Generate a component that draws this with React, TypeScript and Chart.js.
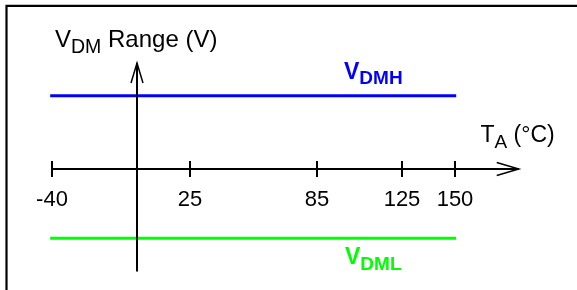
import React, { useEffect, useRef } from "react";
import { Chart, registerables } from "chart.js";

Chart.register(...registerables);

// Data
const tempTicks: number[] = [-40, 25, 85, 125, 150];
const tempRange: number[] = [-40, 150];
const vdmhValues: number[] = [1, 1];
const vdmlValues: number[] = [-0.945, -0.945];

const FONT = '"Liberation Sans", Arial, sans-serif';

const axesPlugin = {
  id: "schematicAxes",
  afterDatasetsDraw(chart: any) {
    const ctx = chart.ctx as CanvasRenderingContext2D;
    const xs = chart.scales.x;
    const ys = chart.scales.y;
    const x0 = Math.round(xs.getPixelForValue(0));
    const y0 = Math.round(ys.getPixelForValue(0));
    const xStart = xs.getPixelForValue(tempTicks[0]);
    const xEnd = xs.getPixelForValue(180.2);
    const yTop = ys.getPixelForValue(1.446);
    const yBot = ys.getPixelForValue(-1.4);

    ctx.save();
    // frame
    ctx.strokeStyle = "#000";
    ctx.lineWidth = 2.2;
    ctx.beginPath();
    ctx.moveTo(6.5, 300);
    ctx.lineTo(6.5, 5.8);
    ctx.lineTo(600, 5.8);
    ctx.stroke();

    // horizontal axis
    ctx.lineWidth = 2;
    ctx.beginPath();
    ctx.moveTo(xStart, y0);
    ctx.lineTo(xEnd, y0);
    ctx.stroke();
    // arrowhead
    ctx.lineWidth = 1.5;
    ctx.beginPath();
    ctx.moveTo(xEnd - 22, y0 - 6.5);
    ctx.lineTo(xEnd, y0);
    ctx.lineTo(xEnd - 22, y0 + 6.5);
    ctx.stroke();

    // vertical axis
    ctx.lineWidth = 2;
    ctx.beginPath();
    ctx.moveTo(x0, yBot);
    ctx.lineTo(x0, yTop);
    ctx.stroke();
    ctx.lineWidth = 1.5;
    ctx.beginPath();
    ctx.moveTo(x0 - 6, yTop + 20);
    ctx.lineTo(x0, yTop);
    ctx.lineTo(x0 + 6, yTop + 20);
    ctx.stroke();

    // ticks + labels
    ctx.lineWidth = 2;
    ctx.fillStyle = "#000";
    ctx.font = `22px ${FONT}`;
    ctx.textAlign = "center";
    ctx.textBaseline = "alphabetic";
    for (const t of tempTicks) {
      const px = Math.round(xs.getPixelForValue(t));
      ctx.beginPath();
      ctx.moveTo(px, y0 - 8);
      ctx.lineTo(px, y0 + 8);
      ctx.stroke();
      ctx.fillText(String(t), px, y0 + 37);
    }

    // text helper: main + subscript + rest
    const drawSub = (
      x: number,
      y: number,
      main: string,
      sub: string,
      rest: string,
      color: string,
      bold: boolean,
      mainSize: number,
      subSize: number
    ) => {
      const w = bold ? "bold " : "";
      ctx.fillStyle = color;
      ctx.textAlign = "left";
      ctx.font = `${w}${mainSize}px ${FONT}`;
      ctx.fillText(main, x, y);
      let cx = x + ctx.measureText(main).width;
      ctx.font = `${w}${subSize}px ${FONT}`;
      ctx.fillText(sub, cx, y + 5.5);
      cx += ctx.measureText(sub).width;
      if (rest) {
        ctx.font = `${w}${mainSize}px ${FONT}`;
        ctx.fillText(rest, cx, y);
      }
    };

    drawSub(55, 47, "V", "DM", " Range (V)", "#000", false, 24, 19.5);
    drawSub(480.5, 142, "T", "A", " (°C)", "#000", false, 23, 19);
    drawSub(344, 78.5, "V", "DMH", "", "#0000FF", true, 23, 19);
    drawSub(345, 264, "V", "DML", "", "#00FF00", true, 23, 19);

    ctx.restore();
  },
};

export default function App() {
  const canvasRef = useRef<HTMLCanvasElement | null>(null);

  useEffect(() => {
    if (!canvasRef.current) return;
    const chart = new Chart(canvasRef.current, {
      type: "line",
      data: {
        datasets: [
          {
            label: "VDMH",
            data: tempRange.map((t, i) => ({ x: t, y: vdmhValues[i] })),
            borderColor: "#0000FF",
            borderWidth: 3,
            borderCapStyle: "square",
            pointRadius: 0,
            fill: false,
          },
          {
            label: "VDML",
            data: tempRange.map((t, i) => ({ x: t, y: vdmlValues[i] })),
            borderColor: "#00FF00",
            borderWidth: 3,
            borderCapStyle: "square",
            pointRadius: 0,
            fill: false,
          },
        ],
      },
      options: {
        animation: false,
        responsive: false,
        maintainAspectRatio: false,
        devicePixelRatio: 1,
        layout: { padding: 0 },
        plugins: {
          legend: { display: false },
          tooltip: { enabled: false },
          title: { display: false },
        },
        scales: {
          x: { type: "linear", min: -64.37, max: 207.66, display: false },
          y: { type: "linear", min: -1.6507, max: 2.3056, display: false },
        },
      },
      plugins: [axesPlugin],
    });
    return () => chart.destroy();
  }, []);

  return (
    <div
      style={{
        position: "absolute",
        left: 0,
        top: 0,
        width: 577,
        height: 290,
        background: "#fff",
      }}
    >
      <canvas ref={canvasRef} width={577} height={290} style={{ display: "block" }} />
    </div>
  );
}
